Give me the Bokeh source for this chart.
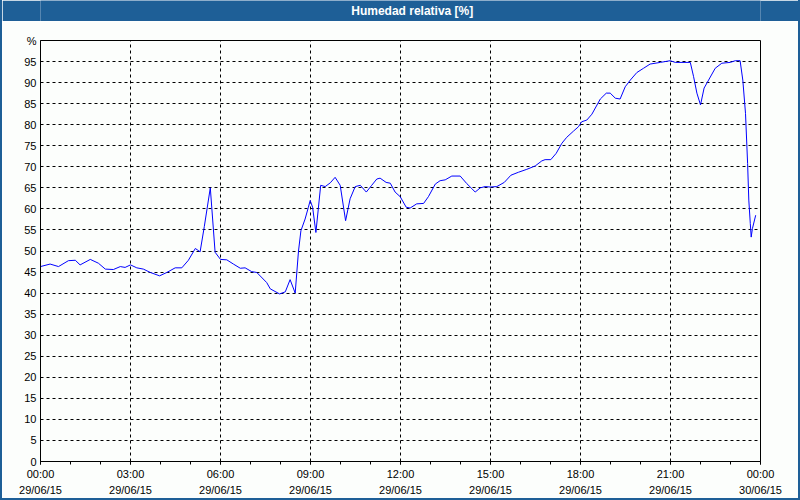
from bokeh.plotting import figure
from bokeh.layouts import column
from bokeh.models import Range1d, FixedTicker, LinearAxis, ColumnDataSource
from bokeh.core.properties import value
from bokeh.embed import file_html
from bokeh.resources import INLINE

# ---- data (hours after 00:00 29/06/15, relative humidity %) ----
hours = [0.00, 0.32, 0.60, 0.93, 1.16, 1.32, 1.66, 1.93, 2.16, 2.43, 2.66, 2.82,
         3.00, 3.21, 3.43, 3.66, 3.97, 4.21, 4.49, 4.71, 4.93, 5.16, 5.32, 5.46,
         5.66, 5.82, 6.00, 6.21, 6.43, 6.66, 6.82, 7.04, 7.21, 7.54, 7.66, 7.97,
         8.16, 8.32, 8.49, 8.60, 8.68, 8.82, 8.93, 8.99, 9.07, 9.18, 9.34, 9.49,
         9.66, 9.82, 9.99, 10.17, 10.32, 10.49, 10.66, 10.86, 11.04, 11.21, 11.32,
         11.52, 11.66, 11.82, 11.99, 12.19, 12.32, 12.54, 12.77, 12.93, 13.16,
         13.32, 13.49, 13.71, 13.99, 14.21, 14.38, 14.49, 14.66, 14.82, 14.99,
         15.21, 15.46, 15.68, 15.93, 16.21, 16.49, 16.71, 16.82, 17.01, 17.19,
         17.38, 17.54, 17.77, 17.93, 18.04, 18.21, 18.38, 18.66, 18.86, 18.99,
         19.16, 19.32, 19.49, 19.66, 19.88, 20.10, 20.32, 20.66, 20.99, 21.16,
         21.66, 21.77, 21.88, 22.00, 22.12, 22.27, 22.49, 22.71, 22.99, 23.16,
         23.32, 23.41, 23.50, 23.57, 23.61, 23.66, 23.69, 23.73, 23.84]
humidity = [46.3, 46.9, 46.3, 47.7, 47.8, 46.7, 48.0, 47.1, 45.7, 45.6, 46.3, 46.1,
            46.7, 46.0, 45.7, 44.9, 44.1, 44.9, 46.0, 46.0, 47.8, 50.6, 49.8, 55.8,
            65.0, 49.7, 48.0, 47.9, 46.9, 45.9, 46.0, 45.1, 44.9, 42.5, 41.0, 39.8,
            40.3, 43.2, 40.0, 50.0, 54.8, 57.6, 60.4, 62.0, 60.4, 54.4, 65.6, 65.3,
            66.2, 67.5, 65.6, 57.2, 62.4, 65.3, 65.6, 64.0, 65.6, 67.1, 67.3,
            66.3, 66.1, 64.0, 62.9, 60.4, 60.2, 61.2, 61.3, 62.9, 65.9,
            66.7, 66.9, 67.8, 67.8, 66.0, 64.8, 64.0, 65.0, 65.3, 65.2,
            65.3, 66.3, 68.0, 68.7, 69.4, 70.2, 71.4, 71.7, 71.7, 73.2,
            75.6, 77.0, 78.5, 79.5, 80.7, 81.1, 82.5, 86.1, 87.5, 87.5,
            86.3, 86.1, 89.0, 90.6, 92.4, 93.4, 94.4, 94.8, 95.2, 94.8,
            94.8, 91.4, 87.5, 84.7, 88.7, 90.6, 93.4, 94.6, 94.8, 95.2,
            95.2, 90.6, 82.7, 70.8, 62.1, 56.5, 53.3, 55.3, 58.5]

x_ticks = [0, 3, 6, 9, 12, 15, 18, 21, 24]
time_labels = ["00:00", "03:00", "06:00", "09:00", "12:00", "15:00", "18:00", "21:00", "00:00"]
date_labels = ["29/06/15"] * 8 + ["30/06/15"]
y_ticks = list(range(0, 101, 5))
title_text = "Humedad relativa [%]"

BLUE = "#1e5f97"
BG = "#fcfefc"
FONT = "Liberation Sans"

# ---- title bar ----
t = figure(width=796, height=21, x_range=Range1d(0, 796), y_range=Range1d(0, 21),
           output_backend="svg", toolbar_location=None,
           x_axis_type=None, y_axis_type=None, min_border=0)
t.background_fill_color = BLUE
t.border_fill_color = BLUE
t.outline_line_color = None
t.grid.visible = False
t.text(x=[411], y=[10.5], text=[title_text], text_color="white",
       text_font=value(FONT), text_font_style="bold", text_font_size="12px",
       text_align="center", text_baseline="middle")

# ---- main plot ----
p = figure(width=796, height=477, x_range=Range1d(0, 24), y_range=Range1d(0, 100),
           output_backend="svg", toolbar_location=None,
           min_border_left=38, min_border_right=38, min_border_top=19, min_border_bottom=37)
p.background_fill_color = BG
p.border_fill_color = BG
p.outline_line_color = "black"
p.outline_line_width = 1

src = ColumnDataSource(dict(h=hours, rh=humidity))
p.line("h", "rh", source=src, line_color="#0000ff", line_width=1)

xa = p.xaxis[0]
xa.ticker = FixedTicker(ticks=x_ticks, minor_ticks=list(range(0, 25)))
xa.major_label_overrides = {k: v for k, v in zip(x_ticks, time_labels)}
xa.major_tick_out = 3
xa.major_tick_in = 0
xa.minor_tick_out = 3
xa.minor_tick_in = 0
xa.axis_line_color = "black"
xa.major_tick_line_color = "black"
xa.minor_tick_line_color = "black"
xa.major_label_text_font = FONT
xa.major_label_text_font_size = "11px"
xa.major_label_text_color = "black"
xa.major_label_standoff = 3

xa2 = LinearAxis(ticker=FixedTicker(ticks=x_ticks, minor_ticks=[]))
xa2.major_label_overrides = {k: v for k, v in zip(x_ticks, date_labels)}
xa2.axis_line_color = None
xa2.major_tick_line_color = None
xa2.minor_tick_line_color = None
xa2.major_tick_out = 0
xa2.major_tick_in = 0
xa2.major_label_text_font = FONT
xa2.major_label_text_font_size = "11px"
xa2.major_label_text_color = "black"
xa2.major_label_standoff = 1
p.add_layout(xa2, "below")

ya = p.yaxis[0]
ya.ticker = FixedTicker(ticks=y_ticks, minor_ticks=[])
ya.major_label_overrides = {100: "%"}
ya.major_tick_out = 0
ya.major_tick_in = 0
ya.axis_line_color = "black"
ya.major_label_text_font = FONT
ya.major_label_text_font_size = "11px"
ya.major_label_text_color = "black"
ya.major_label_standoff = 4

p.xgrid.ticker = FixedTicker(ticks=x_ticks[1:-1])
p.ygrid.ticker = FixedTicker(ticks=y_ticks[1:-1])
for g in (p.xgrid[0], p.ygrid[0]):
    g.grid_line_color = "black"
    g.grid_line_dash = "3 3"
    g.grid_line_width = 1

layout = column(t, p, spacing=0,
                styles={"border-left": f"2px solid {BLUE}",
                        "border-right": f"2px solid {BLUE}",
                        "border-bottom": f"2px solid {BLUE}"})

open("out.html", "w").write(file_html(layout, INLINE))
